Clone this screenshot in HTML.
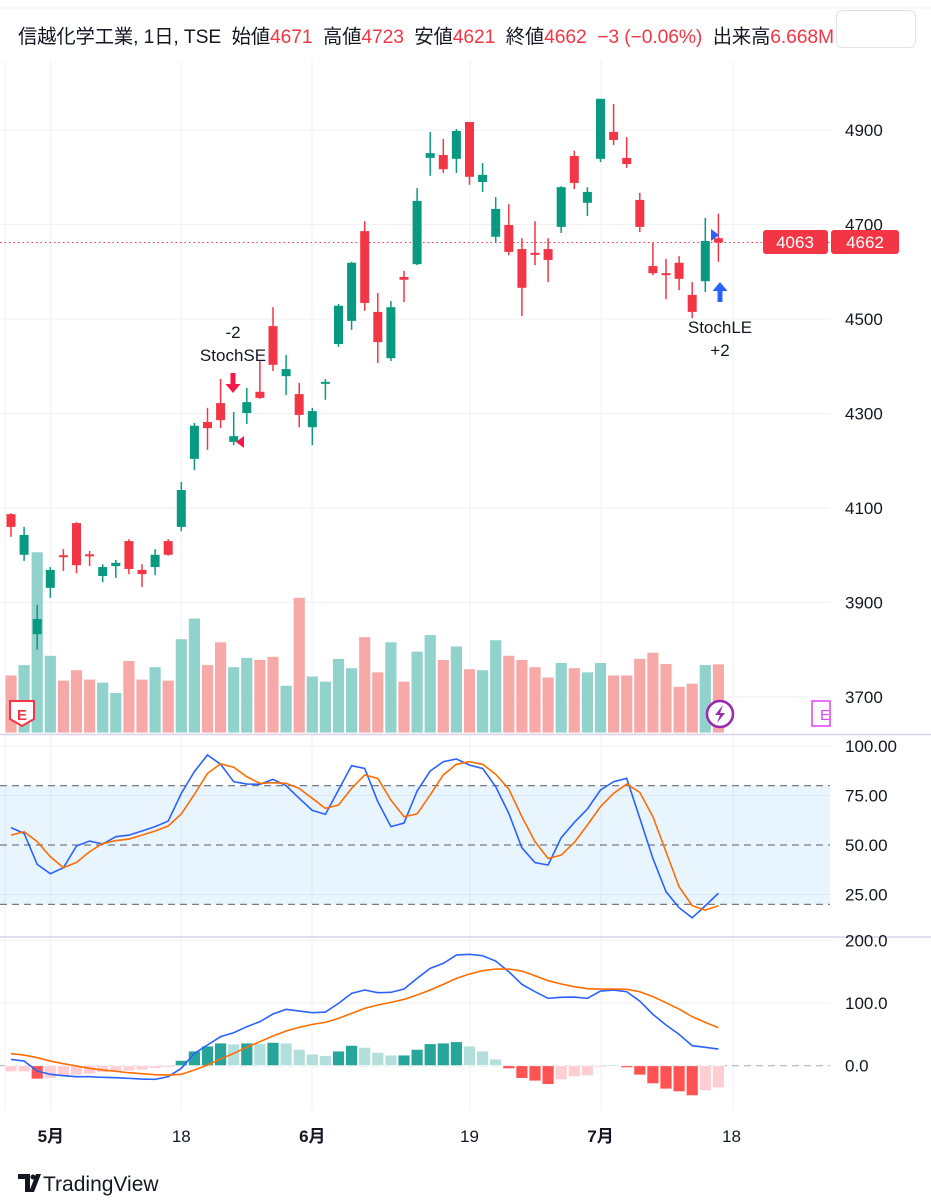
<!DOCTYPE html>
<html><head><meta charset="utf-8">
<style>
html,body{margin:0;padding:0;background:#fff;}
body{width:931px;height:1200px;overflow:hidden;position:relative;font-family:"Liberation Sans","Noto Sans CJK JP",sans-serif;}
#hdr{position:absolute;left:18px;top:21px;font-size:19.3px;color:#131722;white-space:nowrap;letter-spacing:-0.1px;}
#hdr .r{color:#f23645;}
#box{position:absolute;left:836px;top:10px;width:80px;height:38px;border:1px solid #e0e3eb;border-radius:6px;box-sizing:border-box;}
svg{position:absolute;left:0;top:0;}
</style></head>
<body>
<div id="hdr">信越化学工業, 1日, TSE&nbsp; 始値<span class="r">4671</span>&nbsp; 高値<span class="r">4723</span>&nbsp; 安値<span class="r">4621</span>&nbsp; 終値<span class="r">4662</span>&nbsp; <span class="r">−3 (−0.06%)</span>&nbsp; 出来高<span class="r">6.668M</span></div>
<div id="box"></div>
<svg id="chart" width="931" height="1200" xmlns="http://www.w3.org/2000/svg"></svg>
<script>
const opens  = [4087,4001,3833,3931,4000,4068,4002,3956,3977,4030,3969,3975,4030,4060,4204,4282,4322,4240,4301,4346,4485,4379,4341,4271,4363,4447,4496,4686,4515,4417,4589,4616,4841,4847,4839,4917,4790,4674,4699,4648,4640,4648,4695,4845,4746,4839,4896,4841,4752,4612,4597,4619,4551,4580,4671];
const highs  = [4089,4060,3895,3975,4013,4070,4009,3981,3990,4034,3981,4013,4034,4155,4280,4312,4373,4303,4354,4411,4525,4424,4365,4312,4373,4532,4621,4707,4555,4538,4602,4777,4896,4881,4902,4917,4830,4758,4743,4671,4707,4671,4781,4856,4779,4966,4955,4885,4767,4661,4627,4633,4578,4714,4723];
const lows   = [4039,3988,3800,3910,3967,3962,3977,3943,3952,3960,3933,3958,3999,4051,4180,4223,4269,4233,4278,4331,4390,4339,4271,4233,4329,4441,4477,4517,4407,4411,4536,4614,4803,4809,4809,4784,4769,4663,4635,4506,4614,4578,4682,4775,4718,4832,4868,4820,4684,4593,4542,4561,4502,4557,4621];
const closes = [4060,4043,3865,3969,3997,3979,3999,3975,3984,3971,3960,4001,4001,4138,4274,4269,4286,4252,4324,4333,4403,4394,4297,4305,4367,4528,4619,4534,4451,4525,4583,4750,4851,4817,4898,4801,4805,4733,4642,4566,4636,4625,4779,4788,4769,4966,4879,4828,4695,4597,4593,4585,4515,4665,4662];
const volumes = [5.6,6.6,17.5,7.5,5.1,6.1,5.2,4.9,3.9,7.0,5.2,6.4,5.1,9.1,11.1,6.6,8.8,6.4,7.3,7.1,7.4,4.6,13.1,5.5,5.0,7.2,6.3,9.3,5.9,8.8,5.0,7.9,9.5,7.1,8.4,6.2,6.1,9.0,7.5,7.1,6.4,5.4,6.8,6.3,5.9,6.8,5.6,5.6,7.2,7.8,6.7,4.5,4.8,6.6,6.668];
const stochK = [58.8,55.9,40.2,35.5,38.5,49.5,52.0,50.5,54.2,55.0,57.1,59.3,62.1,76.1,87.1,95.5,90.8,82.0,80.8,80.7,83.2,80.0,73.6,67.5,65.5,77.8,90.1,88.7,71.9,59.3,61.1,77.3,87.4,92.1,93.5,90.4,88.7,79.5,66.0,48.6,41.1,39.9,53.7,61.4,68.2,77.8,82.0,83.7,63.5,43.2,26.4,18.3,13.2,19.3,25.6];
const stochD = [55.0,56.7,51.7,44.1,38.5,41.2,46.6,50.8,52.2,53.0,55.0,57.1,59.6,65.7,75.6,86.2,91.0,89.3,84.5,81.2,81.5,81.2,78.6,73.6,68.5,70.2,78.6,85.4,83.7,72.7,64.3,65.7,75.3,85.4,90.8,92.1,90.8,85.7,78.3,64.3,51.7,43.2,44.9,51.3,60.1,69.4,76.1,80.8,76.6,64.3,46.6,28.9,19.3,17.1,19.3];
const macdLine = [10.1,7.4,-8.5,-13.8,-15.9,-17.5,-17.5,-18.6,-19.1,-20.2,-21.3,-21.8,-17.5,-4.2,19.7,33.0,46.3,52.6,62.2,70.2,82.4,89.9,87.2,84.5,85.6,99.4,115.4,120.7,116.4,117.0,122.3,139.3,155.2,163.2,176.5,177.6,175.4,166.9,149.9,129.7,118.0,107.4,109.0,109.5,107.4,119.1,120.7,118.0,103.1,81.9,64.9,50.0,31.9,29.3,26.6];
const signalLine = [19.1,17.0,12.8,7.4,3.2,-0.5,-4.2,-6.9,-9.0,-11.2,-12.7,-14.3,-14.9,-13.8,-6.9,1.1,10.6,19.7,29.3,38.3,47.3,55.3,61.1,65.9,69.1,75.5,83.5,91.4,96.8,101.0,105.8,112.7,120.7,129.7,139.3,146.2,151.5,154.2,154.2,151.0,143.5,135.6,130.3,126.0,122.8,122.3,122.3,121.8,118.0,110.1,100.5,90.4,78.2,69.1,60.6];
const histValues = [-9.6,-9.6,-21.3,-20.2,-17.5,-14.9,-13.3,-10.6,-8.5,-8.5,-6.9,-4.2,-2.6,8.5,23.4,31.4,36.2,34.6,36.2,35.5,37.2,36.2,26.1,18.6,16.0,23.4,32.4,29.3,21.3,17.0,17.0,26.1,35.1,36.2,38.3,31.4,23.4,10.6,-4.8,-20.2,-24.4,-29.8,-22.3,-17.5,-15.9,-2.6,0.5,-3.2,-14.9,-28.7,-37.2,-41.5,-47.8,-39.9,-35.2];
const priceTicks = [4900,4700,4500,4300,4100,3900,3700];
const stochTicks = [100,75,50,25];
const stochBands = [80,50,20];
const macdTicks = [200,100,0];
const timeLabels = [{i:3,t:"5月",b:true},{i:13,t:"18",b:false},{i:23,t:"6月",b:true},{i:35,t:"19",b:false},{i:45,t:"7月",b:true},{i:55,t:"18",b:false}];

const NS="http://www.w3.org/2000/svg";
const svg=document.getElementById('chart');
function el(tag,attrs,parent){const e=document.createElementNS(NS,tag);for(const k in attrs)e.setAttribute(k,attrs[k]);(parent||svg).appendChild(e);return e;}
const cx=i=>11+i*13.1;
const py=p=>130+(4900-p)*0.4725;
const vy=v=>733-v*10.35;
const sy=v=>845-(v-50)*1.978;
const my=v=>1065.7-v*0.627;
const PW=830;
const UP="#089981",DN="#f23645";

const defs=el('defs',{});
const c1=el('clipPath',{id:'cp1'},defs);el('rect',{x:0,y:60,width:PW,height:674},c1);
const c2=el('clipPath',{id:'cp2'},defs);el('rect',{x:0,y:735,width:PW,height:201},c2);
const c3=el('clipPath',{id:'cp3'},defs);el('rect',{x:0,y:938,width:PW,height:172},c3);

const grid=el('g',{stroke:'#f0f1f4','stroke-width':1});


[5,50.7,181,312,470,601,733].forEach(x=>el('line',{x1:x,y1:60,x2:x,y2:1110},grid));
priceTicks.forEach(p=>el('line',{x1:0,y1:py(p),x2:PW,y2:py(p)},grid));
[100,75,25].forEach(v=>el('line',{x1:0,y1:sy(v),x2:PW,y2:sy(v)},grid));
[200,100].forEach(v=>el('line',{x1:0,y1:my(v),x2:PW,y2:my(v)},grid));
el('line',{x1:0,y1:8,x2:931,y2:8,stroke:'#f0f1f4'});

el('line',{x1:0,y1:734.5,x2:931,y2:734.5,stroke:'#d9d3ea','stroke-width':1.5});
el('line',{x1:0,y1:937,x2:931,y2:937,stroke:'#d9d3ea','stroke-width':1.5});

const vg=el('g',{'clip-path':'url(#cp1)'});


volumes.forEach((v,i)=>{
  const r=el('rect',{x:cx(i)-6,y:vy(v),width:12,height:733-vy(v),fill:closes[i]>=opens[i]?'#92d2cc':'#f7a9a7',stroke:'#fff','stroke-width':0.8},vg);
  
  
});

const cl=el('line',{x1:0,y1:py(4662),x2:PW,y2:py(4662),stroke:'#f23645','stroke-width':1,'stroke-dasharray':'1.5 3'});



const cg=el('g',{'clip-path':'url(#cp1)'});


opens.forEach((o,i)=>{
  const c=closes[i],col=c>=o?UP:DN,x=cx(i);
  const g=el('g',{},cg);
  
  
  el('line',{x1:x,y1:py(highs[i]),x2:x,y2:py(lows[i]),stroke:col,'stroke-width':1.5},g);
  const top=py(Math.max(o,c)),h=Math.max(2,py(Math.min(o,c))-top);
  el('rect',{x:x-4.5,y:top,width:9,height:h,fill:col},g);
});

function txt(x,y,s,attrs,name){const t=el('text',Object.assign({x:x,y:y,'font-size':17,fill:'#131722','text-anchor':'middle'},attrs||{}));t.textContent=s;return t;}
txt(233,338,'-2',{},'short-signal-qty');
txt(233,361,'StochSE',{},'short-signal-label');
const sa=el('path',{d:'M230.5 373 h5 v11 h5 l-7.5 9 l-7.5 -9 h5 z',fill:'#f7184a'});


const st=el('path',{d:'M236 442 l8 -6 v12 z',fill:'#f7184a'});


txt(720,333,'StochLE',{},'long-signal-label');
txt(720,356,'+2',{},'long-signal-qty');
const la=el('path',{d:'M717.5 302 h5 v-11 h5 l-7.5 -9 l-7.5 9 h5 z',fill:'#2962ff'});


const lt=el('path',{d:'M711 229 l8 6 l-8 6 z',fill:'#2962ff'});



const e1=el('g',{});


el('path',{d:'M10 701 h24 v18 l-12 7 l-12 -7 z',fill:'#fff',stroke:'#f23645','stroke-width':2},e1);
const et=el('text',{x:22,y:720,'font-size':15,'font-weight':'bold',fill:'#f23645','text-anchor':'middle'},e1);et.textContent='E';
const e2=el('g',{});


el('circle',{cx:720,cy:714,r:13,fill:'#fff',stroke:'#9c27b0','stroke-width':2.5},e2);
el('path',{d:'M723 705 l-8 10 h5 l-3 8 l8 -10 h-5 z',fill:'#9c27b0'},e2);
const e3=el('g',{});


el('path',{d:'M812 701 h18 v25 h-18 z',fill:'#fff',stroke:'#e040fb','stroke-width':1.5},e3);
const et3=el('text',{x:825,y:720,'font-size':15,fill:'#e040fb','text-anchor':'middle'},e3);et3.textContent='E';

const sg=el('g',{'clip-path':'url(#cp2)'});


el('rect',{x:0,y:sy(80),width:PW,height:sy(20)-sy(80),fill:'rgba(33,150,243,0.1)'},sg);
stochBands.forEach(v=>el('line',{x1:0,y1:sy(v),x2:PW,y2:sy(v),stroke:'#787b86','stroke-width':1.2,'stroke-dasharray':'7 5'},sg));
const kp=el('polyline',{points:stochK.map((v,i)=>cx(i)+','+sy(v)).join(' '),fill:'none',stroke:'#2962ff','stroke-width':1.6},sg);


const dp=el('polyline',{points:stochD.map((v,i)=>cx(i)+','+sy(v)).join(' '),fill:'none',stroke:'#ff6d00','stroke-width':1.6},sg);



const mg=el('g',{'clip-path':'url(#cp3)'});


el('line',{x1:0,y1:my(0),x2:931,y2:my(0),stroke:'#b2b5be','stroke-width':1.2,'stroke-dasharray':'7 5'},mg);
histValues.forEach((v,i)=>{
  const prev=i>0?histValues[i-1]:v;
  let col;
  if(v>=0) col=v>=prev?'#26a69a':'#b2dfdb'; else col=v<prev?'#ff5252':'#ffcdd2';
  const y0=my(Math.max(v,0)),y1=my(Math.min(v,0));
  const r=el('rect',{x:cx(i)-6,y:y0,width:12,height:Math.max(1,y1-y0),fill:col,stroke:'#fff','stroke-width':0.8},mg);
  
  
});
const ml=el('polyline',{points:macdLine.map((v,i)=>cx(i)+','+my(v)).join(' '),fill:'none',stroke:'#2962ff','stroke-width':1.6},mg);


const sl=el('polyline',{points:signalLine.map((v,i)=>cx(i)+','+my(v)).join(' '),fill:'none',stroke:'#ff6d00','stroke-width':1.6},mg);



priceTicks.forEach(p=>{txt(845,py(p)+6,String(p),{'text-anchor':'start'},'price-axis-label');});
stochTicks.forEach(v=>{txt(845,sy(v)+6,v.toFixed(2),{'text-anchor':'start'},'stoch-axis-label');});
macdTicks.forEach(v=>{txt(845,my(v)+6,v.toFixed(1),{'text-anchor':'start'},'macd-axis-label');});
const b1=el('g',{});


el('rect',{x:763,y:230,width:65,height:24,rx:3,fill:'#f23645'},b1);
const bt1=el('text',{x:795,y:248,'font-size':17,fill:'#fff','text-anchor':'middle'},b1);bt1.textContent='4063';
const b2=el('g',{});


el('rect',{x:831,y:230,width:68,height:24,rx:3,fill:'#f23645'},b2);
const bt2=el('text',{x:865,y:248,'font-size':17,fill:'#fff','text-anchor':'middle'},b2);bt2.textContent='4662';

timeLabels.forEach(l=>{txt(cx(l.i)+(l.i===3?0.5:0),1142,l.t,{'font-weight':l.b?'bold':'normal'},'time-axis-label');});

const lg=el('g',{});


el('path',{d:'M18 1174 h12 v18 h-5 v-13 h-7 z',fill:'#131722'},lg);
el('circle',{cx:33,cy:1177,r:2.5,fill:'#131722'},lg);
el('path',{d:'M36 1174 h5 l-7 18 h-5 z',fill:'#131722'},lg);
const lt2=el('text',{x:43,y:1191,'font-size':21,fill:'#131722'},lg);lt2.textContent='TradingView';
</script>
</body></html>
